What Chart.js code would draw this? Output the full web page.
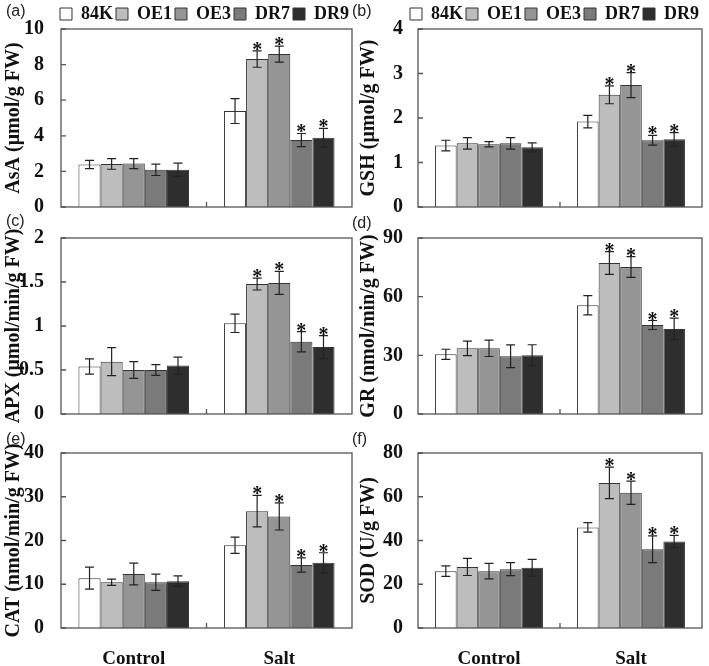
<!DOCTYPE html>
<html>
<head>
<meta charset="utf-8">
<script src="https://cdn.jsdelivr.net/npm/chart.js@4.4.0/dist/chart.umd.min.js"></script>
<style>
    body { margin: 0; background: #fff; }
    #wrap { position: relative; width: 709px; height: 666px; overflow: hidden; }
    #wrap canvas { position: absolute; }
    .tag { position: absolute; font: 16px 'Liberation Sans', Arial, sans-serif; color: #222; }
</style>
</head>
<body>
<div id="wrap">
    <canvas id="cA" width="355" height="222" style="left:0;top:0"></canvas>
    <canvas id="cB" width="354" height="222" style="left:355px;top:0"></canvas>
    <canvas id="cC" width="355" height="216" style="left:0;top:212px"></canvas>
    <canvas id="cD" width="354" height="216" style="left:355px;top:212px"></canvas>
    <canvas id="cE" width="355" height="236" style="left:0;top:430px"></canvas>
    <canvas id="cF" width="354" height="236" style="left:355px;top:430px"></canvas>
    <div class="tag" style="left:6px;top:2px">(a)</div>
    <div class="tag" style="left:352px;top:2px">(b)</div>
    <div class="tag" style="left:6px;top:212px">(c)</div>
    <div class="tag" style="left:352px;top:214px">(d)</div>
    <div class="tag" style="left:6px;top:430px">(e)</div>
    <div class="tag" style="left:352px;top:430px">(f)</div>
</div>
<script>
// ========================================
// データ
// ========================================

const groups = ['Control', 'Salt'];
const lines = ['84K', 'OE1', 'OE3', 'DR7', 'DR9'];
const fills = ['#ffffff', '#bdbdbd', '#959595', '#7a7a7a', '#2e2e2e'];
// Salt群の有意差 (*)
const saltStars = [false, true, true, true, true];

// (a) AsA
const asaControl = [2.39, 2.42, 2.44, 2.09, 2.09];
const asaControlErr = [0.23, 0.30, 0.28, 0.32, 0.37];
const asaSalt = [5.39, 8.31, 8.59, 3.76, 3.89];
const asaSaltErr = [0.70, 0.46, 0.45, 0.37, 0.53];

// (b) GSH
const gshControl = [1.38, 1.43, 1.41, 1.43, 1.34];
const gshControlErr = [0.12, 0.13, 0.06, 0.13, 0.10];
const gshSalt = [1.92, 2.52, 2.74, 1.50, 1.52];
const gshSaltErr = [0.14, 0.20, 0.28, 0.11, 0.15];

// (c) APX
const apxControl = [0.54, 0.595, 0.50, 0.50, 0.55];
const apxControlErr = [0.087, 0.16, 0.095, 0.06, 0.097];
const apxSalt = [1.03, 1.477, 1.49, 0.82, 0.76];
const apxSaltErr = [0.104, 0.068, 0.13, 0.115, 0.13];

// (d) GR
const grControl = [30.5, 33.6, 33.6, 29.5, 30.0];
const grControlErr = [2.6, 3.7, 4.2, 5.8, 5.4];
const grSalt = [55.6, 77.2, 75.2, 45.5, 43.5];
const grSaltErr = [4.9, 5.8, 5.3, 2.3, 5.5];

// (e) CAT
const catControl = [11.4, 10.45, 12.35, 10.45, 10.7];
const catControlErr = [2.5, 0.7, 2.5, 1.85, 1.2];
const catSalt = [18.9, 26.7, 25.5, 14.4, 14.9];
const catSaltErr = [1.85, 3.6, 3.1, 1.65, 2.3];

// (f) SOD
const sodControl = [26.0, 27.9, 26.0, 26.9, 27.5];
const sodControlErr = [2.4, 3.9, 3.5, 3.0, 3.9];
const sodSalt = [46.0, 66.3, 61.8, 36.0, 39.5];
const sodSaltErr = [2.2, 7.2, 5.3, 6.1, 2.8];

// ========================================
// 描画設定
// ========================================

const serif = "'Liberation Serif', 'Times New Roman', serif";
const ink = '#111';

// エラーバー・アスタリスク・枠線・内向き目盛り
const decor = {
    id: 'decor',
    afterDatasetsDraw(chart) {
        const ctx = chart.ctx;
        const y = chart.scales.y;
        const x = chart.scales.x;
        const a = chart.chartArea;
        ctx.save();
        ctx.font = 'bold 20px ' + serif;
        ctx.textAlign = 'center';
        ctx.textBaseline = 'alphabetic';
        chart.data.datasets.forEach((ds, i) => {
            const meta = chart.getDatasetMeta(i);
            meta.data.forEach((bar, j) => {
                const v = ds.data[j], e = ds.errors[j];
                const top = y.getPixelForValue(v + e);
                const bot = y.getPixelForValue(v - e);
                ctx.strokeStyle = '#222';
                ctx.lineWidth = 1.2;
                ctx.beginPath();
                ctx.moveTo(bar.x, top); ctx.lineTo(bar.x, bot);
                ctx.moveTo(bar.x - 4.5, top); ctx.lineTo(bar.x + 4.5, top);
                ctx.moveTo(bar.x - 4.5, bot); ctx.lineTo(bar.x + 4.5, bot);
                ctx.stroke();
                if (ds.stars[j]) {
                    ctx.fillStyle = ink;
                    ctx.fillText('*', bar.x, top + 5);
                }
            });
        });
        // 枠線
        ctx.strokeStyle = '#555';
        ctx.lineWidth = 1.3;
        ctx.strokeRect(a.left, a.top, a.right - a.left, a.bottom - a.top);
        // y軸の内向き目盛り
        ctx.beginPath();
        y.ticks.forEach(t => {
            const py = y.getPixelForValue(t.value);
            ctx.moveTo(a.left, py);
            ctx.lineTo(a.left + 5, py);
        });
        // 中央の目盛り
        const mid = (x.getPixelForValue(0) + x.getPixelForValue(1)) / 2;
        ctx.moveTo(mid, a.bottom);
        ctx.lineTo(mid, a.bottom - 5);
        ctx.stroke();
        ctx.restore();
    }
};

function makePanel(id, opt) {
    const datasets = lines.map((name, i) => ({
        label: name,
        data: [opt.control[i], opt.salt[i]],
        errors: [opt.controlErr[i], opt.saltErr[i]],
        stars: [false, saltStars[i]],
        backgroundColor: fills[i],
        borderColor: '#333',
        borderWidth: 1,
        categoryPercentage: 0.76,
        barPercentage: 1
    }));

    new Chart(document.getElementById(id), {
        type: 'bar',
        data: { labels: groups, datasets: datasets },
        plugins: [decor],
        options: {
            responsive: false,
            animation: false,
            layout: { padding: { top: opt.padTop, right: opt.padRight, left: 0, bottom: 0 } },
            plugins: {
                tooltip: { enabled: false },
                legend: {
                    display: opt.legend,
                    position: 'top',
                    align: 'end',
                    maxHeight: 27,
                    labels: {
                        boxWidth: 12,
                        boxHeight: 12,
                        padding: 3,
                        color: ink,
                        font: { family: serif, size: 18, weight: 'bold' }
                    }
                }
            },
            scales: {
                x: {
                    grid: { display: false, drawTicks: false },
                    border: { display: false },
                    ticks: {
                        display: opt.xLabels,
                        padding: 20,
                        color: ink,
                        font: { family: serif, size: 19, weight: 'bold' }
                    },
                    afterFit: s => { s.height = opt.xHeight; }
                },
                y: {
                    min: 0,
                    max: opt.max,
                    grid: { display: false, drawTicks: false },
                    border: { display: false },
                    ticks: {
                        stepSize: opt.step,
                        padding: opt.tickPad,
                        color: ink,
                        font: { family: serif, size: 20, weight: 'bold' },
                        callback: v => String(Number(v))
                    },
                    title: {
                        display: true,
                        text: opt.title,
                        color: ink,
                        padding: { top: 2, bottom: 0 },
                        font: { family: serif, size: 20, weight: 'bold' }
                    },
                    afterFit: s => {
                        // 幅固定・ラベル分の上下余白は不要
                        s.width = opt.yWidth;
                        s.paddingTop = 0;
                        s.paddingBottom = 0;
                    }
                }
            }
        }
    });
}

window.addEventListener('DOMContentLoaded', () => {
    makePanel('cA', {
        title: 'AsA (μmol/g FW)', control: asaControl, controlErr: asaControlErr,
        salt: asaSalt, saltErr: asaSaltErr, max: 10, step: 2,
        legend: true, padTop: 2, padRight: 3, yWidth: 61, tickPad: 17, xHeight: 15, xLabels: false
    });
    makePanel('cB', {
        title: 'GSH (μmol/g FW)', control: gshControl, controlErr: gshControlErr,
        salt: gshSalt, saltErr: gshSaltErr, max: 4, step: 1,
        legend: true, padTop: 2, padRight: 7, yWidth: 63, tickPad: 15, xHeight: 15, xLabels: false
    });
    makePanel('cC', {
        title: 'APX (μmol/min/g FW)', control: apxControl, controlErr: apxControlErr,
        salt: apxSalt, saltErr: apxSaltErr, max: 2, step: 0.5,
        legend: false, padTop: 26, padRight: 3, yWidth: 61, tickPad: 17, xHeight: 14, xLabels: false
    });
    makePanel('cD', {
        title: 'GR (nmol/min/g FW)', control: grControl, controlErr: grControlErr,
        salt: grSalt, saltErr: grSaltErr, max: 90, step: 30,
        legend: false, padTop: 26, padRight: 7, yWidth: 63, tickPad: 15, xHeight: 14, xLabels: false
    });
    makePanel('cE', {
        title: 'CAT (nmol/min/g FW)', control: catControl, controlErr: catControlErr,
        salt: catSalt, saltErr: catSaltErr, max: 40, step: 10,
        legend: false, padTop: 23, padRight: 3, yWidth: 61, tickPad: 17, xHeight: 38, xLabels: true
    });
    makePanel('cF', {
        title: 'SOD (U/g FW)', control: sodControl, controlErr: sodControlErr,
        salt: sodSalt, saltErr: sodSaltErr, max: 80, step: 20,
        legend: false, padTop: 23, padRight: 7, yWidth: 63, tickPad: 15, xHeight: 38, xLabels: true
    });
});
</script>
</body>
</html>
